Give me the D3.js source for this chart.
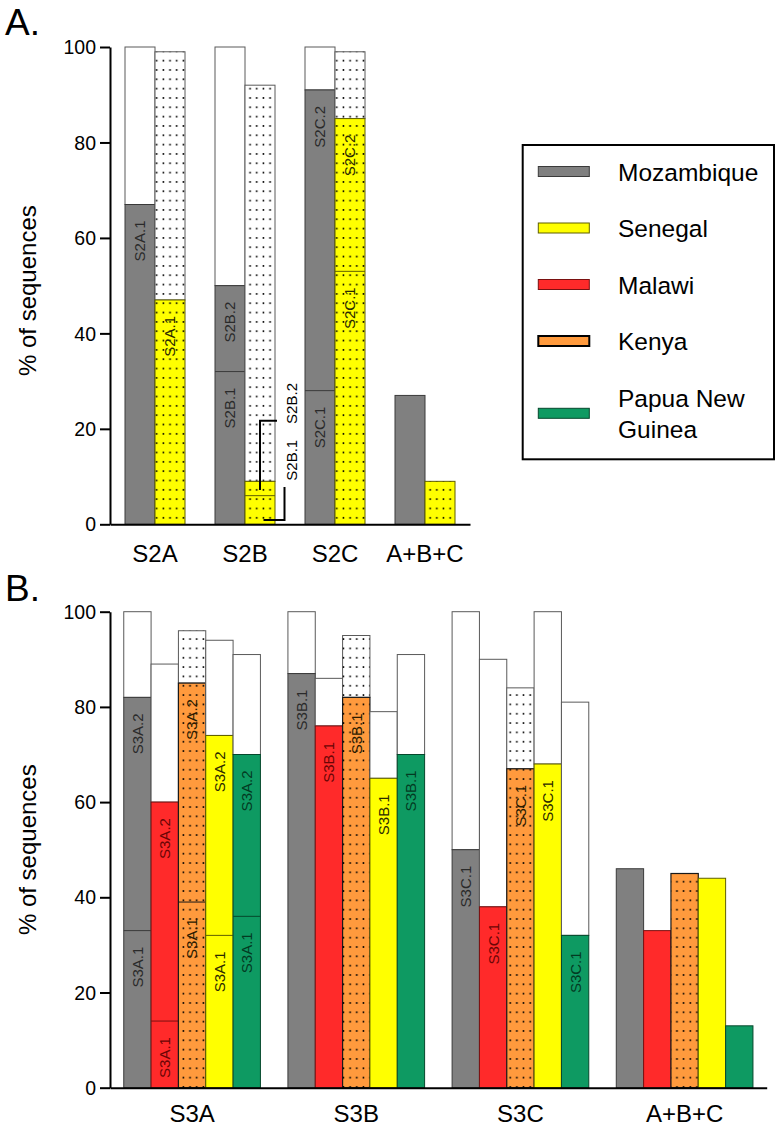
<!DOCTYPE html>
<html><head><meta charset="utf-8">
<script src="https://cdn.jsdelivr.net/npm/d3@7"></script>
<style>body{margin:0;background:#fff} svg{display:block}</style>
</head><body><svg id="chart" width="782" height="1129"></svg>
<script>
// ---------- DATA ----------
const tickValues = [0, 20, 40, 60, 80, 100];

// Panel A
const categoriesA = ["S2A", "S2B", "S2C", "A+B+C"];
const countriesA = ["Mozambique", "Senegal"];
const totalA_Mozambique = [100, 100, 100, 27];
const coloredA_Mozambique = [67, 50, 91, 27];
const splitA_Mozambique = [null, 32, 28, null];
const labelsA_Mozambique = [["S2A.1"], ["S2B.1", "S2B.2"], ["S2C.1", "S2C.2"], []];
const totalA_Senegal = [99, 92, 99, 9];
const coloredA_Senegal = [47, 9, 85, 9];
const splitA_Senegal = [null, 6, 53, null];
const labelsA_Senegal = [["S2A.1"], [], ["S2C.1", "S2C.2"], []];
// call-out labels for the S2B Senegal bar (value where text ends, leader line value ranges)
const calloutLabelsA = ["S2B.2", "S2B.1"];
const calloutTextEndA = [29.6, 17.7];
const calloutLineA = [[7.2, 21.7], [0.9, 7.8]];

// Panel B
const categoriesB = ["S3A", "S3B", "S3C", "A+B+C"];
const countriesB = ["Mozambique", "Malawi", "Kenya", "Senegal", "Papua New Guinea"];
const totalB_Mozambique = [100, 100, 100, 46];
const coloredB_Mozambique = [82, 87, 50, 46];
const splitB_Mozambique = [33, null, null, null];
const totalB_Malawi = [89, 86, 90, 33];
const coloredB_Malawi = [60, 76, 38, 33];
const splitB_Malawi = [14, null, null, null];
const totalB_Kenya = [96, 95, 84, 45];
const coloredB_Kenya = [85, 82, 67, 45];
const splitB_Kenya = [39, null, null, null];
const totalB_Senegal = [94, 79, 100, 44];
const coloredB_Senegal = [74, 65, 68, 44];
const splitB_Senegal = [32, null, null, null];
const totalB_PNG = [91, 91, 81, 13];
const coloredB_PNG = [70, 70, 32, 13];
const splitB_PNG = [36, null, null, null];
const labelsB_split = [["S3A.1", "S3A.2"], ["S3B.1"], ["S3C.1"], []];

const legendItems = ["Mozambique", "Senegal", "Malawi", "Kenya", "Papua New Guinea"];

// ---------- STYLE ----------
const FONT = '"Liberation Sans", Arial, Helvetica, sans-serif';
const fillC = {"Mozambique": "#808080", "Senegal": "#ffff00", "Malawi": "#ff2a2a", "Kenya": "#ff9a3d", "Papua New Guinea": "#0e9a62"};
const strokeC = {"Mozambique": "#3a3a3a", "Senegal": "#5f5f00", "Malawi": "#7a1010", "Kenya": "#1a1a1a", "Papua New Guinea": "#05482c"};
const textC = {"Mozambique": "#2a2a2a", "Senegal": "#2a2a00", "Malawi": "#6a0505", "Kenya": "#2a1a00", "Papua New Guinea": "#033a22"};

const svg = d3.select("#chart");
const defs = svg.append("defs");
const pat = defs.append("pattern").attr("id", "dots").attr("patternUnits", "userSpaceOnUse")
  .attr("width", 6.67).attr("height", 9.33);
pat.append("circle").attr("cx", 3.3).attr("cy", 4.6).attr("r", 0.95).attr("fill", "#000");

function panel(o) {
  const x0 = d3.scaleBand().domain(o.categories).range(o.xRange);
  const bw0 = x0.bandwidth();
  const x1 = d3.scaleBand().domain(o.countries).range([bw0 * o.pad, bw0 * (1 - o.pad)]);
  const y = d3.scaleLinear().domain([0, 100]).range(o.yRange);
  const g = svg.append("g");
  o.countries.forEach(c => {
    const d = o.data[c];
    o.categories.forEach((cat, i) => {
      const bx = x0(cat) + x1(c), bw = x1.bandwidth();
      const tot = d.total[i], col = d.colored[i], sp = d.split[i];
      const dotted = o.dotted.includes(c);
      if (tot > col) {
        g.append("rect").attr("x", bx).attr("y", y(tot)).attr("width", bw).attr("height", y(col) - y(tot))
          .attr("fill", "#fff").attr("stroke", "#5a5a5a").attr("stroke-width", 1);
        if (dotted) g.append("rect").attr("x", bx).attr("y", y(tot)).attr("width", bw).attr("height", y(col) - y(tot))
          .attr("fill", "url(#dots)");
      }
      g.append("rect").attr("x", bx).attr("y", y(col)).attr("width", bw).attr("height", y(0) - y(col))
        .attr("fill", fillC[c]).attr("stroke", strokeC[c]).attr("stroke-width", c === "Kenya" ? 1.2 : 1);
      if (dotted) g.append("rect").attr("x", bx).attr("y", y(col)).attr("width", bw).attr("height", y(0) - y(col))
        .attr("fill", "url(#dots)");
      if (sp != null) {
        g.append("line").attr("x1", bx).attr("x2", bx + bw).attr("y1", y(sp)).attr("y2", y(sp))
          .attr("stroke", strokeC[c]).attr("stroke-width", 1);
      }
      const labs = d.labels[i] || [];
      const tops = sp != null ? [sp, col] : [col];
      labs.forEach((lab, k) => {
        const yy = y(tops[k]) + 16;
        g.append("text").attr("transform", `translate(${bx + bw / 2},${yy}) rotate(-90)`)
          .attr("text-anchor", "end").attr("dy", "0.36em")
          .attr("font-family", FONT).attr("font-size", 15).attr("fill", textC[c]).text(lab);
      });
    });
  });

  // y axis
  const ya = g.append("g").attr("transform", `translate(${o.xRange[0]},0)`)
    .call(d3.axisLeft(y).tickValues(tickValues).tickSize(10).tickSizeOuter(0).tickPadding(4));
  ya.select(".domain").attr("stroke", "#000").attr("stroke-width", 2);
  ya.selectAll(".tick line").attr("stroke", "#000").attr("stroke-width", 2);
  ya.selectAll(".tick text").attr("font-family", FONT).attr("font-size", 19.5).attr("fill", "#000").attr("dy", "0.34em");
  // x axis
  const xa = g.append("g").attr("transform", `translate(0,${y(0)})`)
    .call(d3.axisBottom(x0).tickSize(0).tickSizeOuter(0).tickPadding(o.xPad));
  xa.select(".domain").attr("stroke", "#000").attr("stroke-width", 2);
  xa.selectAll(".tick text").attr("font-family", FONT).attr("font-size", 24).attr("fill", "#000");
  // y title
  g.append("text").attr("transform", `translate(36,${(o.yRange[0] + o.yRange[1]) / 2 + o.titleShift}) rotate(-90)`)
    .attr("text-anchor", "middle").attr("font-family", FONT).attr("font-size", 24).attr("fill", "#000")
    .text("% of sequences");
  // panel letter
  g.append("text").attr("x", 5).attr("y", o.letterY).attr("font-family", FONT).attr("font-size", 37)
    .attr("fill", "#000").text(o.letter);
  return {x0, x1, y, g};
}

// ---------- PANEL A ----------
const A = panel({
  categories: categoriesA, countries: countriesA,
  data: {
    "Mozambique": {total: totalA_Mozambique, colored: coloredA_Mozambique, split: splitA_Mozambique, labels: labelsA_Mozambique},
    "Senegal": {total: totalA_Senegal, colored: coloredA_Senegal, split: splitA_Senegal, labels: labelsA_Senegal}
  },
  xRange: [110, 470], yRange: [524.3, 47], pad: 1 / 6, dotted: ["Senegal"],
  xPad: 20.5, titleShift: 5, letter: "A.", letterY: 35
});
// call-outs on S2B Senegal bar
{
  const bx = A.x0("S2B") + A.x1("Senegal"), bw = A.x1.bandwidth(), cx = bx + bw / 2, right = bx + bw;
  const y = A.y;
  const l1 = calloutLineA[0], l2 = calloutLineA[1];
  A.g.append("path").attr("d", `M${cx},${y(l1[0])}V${y(l1[1])}H${right + 2}`)
    .attr("fill", "none").attr("stroke", "#000").attr("stroke-width", 2);
  A.g.append("path").attr("d", `M${cx + 3.5},${y(l2[0])}H${right + 9.5}V${y(l2[1])}`)
    .attr("fill", "none").attr("stroke", "#000").attr("stroke-width", 2);
  calloutLabelsA.forEach((lab, k) => {
    A.g.append("text").attr("transform", `translate(${right + 16.5},${y(calloutTextEndA[k])}) rotate(-90)`)
      .attr("text-anchor", "end").attr("dy", "0.36em").attr("font-family", FONT).attr("font-size", 15)
      .attr("fill", "#000").text(lab);
  });
}

// ---------- PANEL B ----------
panel({
  categories: categoriesB, countries: countriesB,
  data: {
    "Mozambique": {total: totalB_Mozambique, colored: coloredB_Mozambique, split: splitB_Mozambique, labels: labelsB_split},
    "Malawi": {total: totalB_Malawi, colored: coloredB_Malawi, split: splitB_Malawi, labels: labelsB_split},
    "Kenya": {total: totalB_Kenya, colored: coloredB_Kenya, split: splitB_Kenya, labels: labelsB_split},
    "Senegal": {total: totalB_Senegal, colored: coloredB_Senegal, split: splitB_Senegal, labels: labelsB_split},
    "Papua New Guinea": {total: totalB_PNG, colored: coloredB_PNG, split: splitB_PNG, labels: labelsB_split}
  },
  xRange: [110, 766.7], yRange: [1087.7, 611.7], pad: 13.75 / 164.17, dotted: ["Kenya"],
  xPad: 17, titleShift: 0, letter: "B.", letterY: 601
});

// ---------- LEGEND ----------
const lg = svg.append("g");
lg.append("rect").attr("x", 522.7).attr("y", 145).attr("width", 251.3).attr("height", 314.3)
  .attr("fill", "#fff").attr("stroke", "#000").attr("stroke-width", 2);
const legY = d3.scalePoint().domain(legendItems.slice(0, 4)).range([171.5, 341]);
legendItems.forEach((c, i) => {
  const cy = i < 4 ? legY(c) : 413.3;
  lg.append("rect").attr("x", 538.3).attr("y", cy - 5).attr("width", 51).attr("height", 10)
    .attr("fill", fillC[c]).attr("stroke", c === "Kenya" ? "#000" : strokeC[c]).attr("stroke-width", c === "Kenya" ? 2 : 1);
  const t = lg.append("text").attr("x", 618).attr("font-family", FONT).attr("font-size", 24.5).attr("fill", "#000");
  if (c === "Papua New Guinea") {
    t.append("tspan").attr("x", 618).attr("y", cy - 6.6).text("Papua New");
    t.append("tspan").attr("x", 618).attr("y", cy + 25).text("Guinea");
  } else {
    t.attr("y", cy + 9).text(c);
  }
});
</script>
</body></html>
